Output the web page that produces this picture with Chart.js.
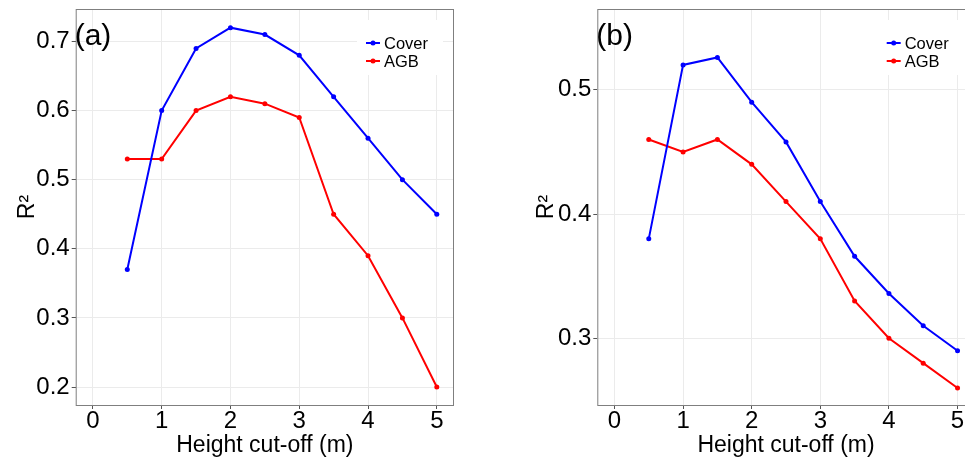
<!DOCTYPE html>
<html>
<head>
    <title>R2 vs height cut-off</title>
    <script src="https://cdn.jsdelivr.net/npm/chart.js"></script>
    <style>
        html, body { margin: 0; padding: 0; background: #fff; overflow: hidden; }
        body { width: 965px; height: 457px; position: relative; }
        canvas { position: absolute; top: 0; }
        #panel-a { left: 0; }
        #panel-b { left: 490px; }
    </style>
</head>
<body>
    <canvas id="panel-a" width="480" height="457"></canvas>
    <canvas id="panel-b" width="510" height="457"></canvas>

    <script>
        // Height cut-off (m) shared by both panels
        const cutoffs = [0.5, 1, 1.5, 2, 2.5, 3, 3.5, 4, 4.5, 5];
        const xTicks = [0, 1, 2, 3, 4, 5];

        // Panel (a)
        const coverA = [0.37, 0.60, 0.69, 0.72, 0.71, 0.68, 0.62, 0.56, 0.50, 0.45];
        const agbA = [0.53, 0.53, 0.60, 0.62, 0.61, 0.59, 0.45, 0.39, 0.30, 0.20];
        const yTicksA = [0.2, 0.3, 0.4, 0.5, 0.6, 0.7];

        // Panel (b)
        const coverB = [0.38, 0.52, 0.526, 0.49, 0.458, 0.41, 0.366, 0.336, 0.31, 0.29];
        const agbB = [0.46, 0.45, 0.46, 0.44, 0.41, 0.38, 0.33, 0.30, 0.28, 0.26];
        const yTicksB = [0.3, 0.4, 0.5];

        const FONT = "'Liberation Sans', Arial, sans-serif";

        function points(values) {
            return cutoffs.map((x, i) => ({ x: x, y: values[i] }));
        }

        function series(label, values, color) {
            return {
                label: label,
                data: points(values),
                borderColor: color,
                backgroundColor: color,
                borderWidth: 2,
                pointRadius: 2.5,
                pointBorderWidth: 0,
                tension: 0
            };
        }

        // panel border on all four sides
        const frame = {
            id: 'frame',
            afterDatasetsDraw(chart) {
                const a = chart.chartArea;
                const ctx = chart.ctx;
                ctx.save();
                ctx.strokeStyle = '#7f7f7f';
                ctx.lineWidth = 1;
                ctx.strokeRect(a.left + 0.5, a.top + 0.5, a.right - a.left - 1, a.bottom - a.top);
                ctx.restore();
            }
        };

        // legend box in the top-right corner plus the panel tag
        const keyAndTag = {
            id: 'keyAndTag',
            afterDraw(chart, args, opts) {
                const a = chart.chartArea;
                const ctx = chart.ctx;
                ctx.save();
                ctx.fillStyle = '#fff';
                ctx.fillRect(a.right - 97, a.top + 11, 86, 55);
                chart.data.datasets.forEach((ds, i) => {
                    const y = a.top + 34 + i * 18;
                    const x0 = a.right - 88;
                    ctx.strokeStyle = ds.borderColor;
                    ctx.lineWidth = 2;
                    ctx.beginPath();
                    ctx.moveTo(x0, y);
                    ctx.lineTo(x0 + 14, y);
                    ctx.stroke();
                    ctx.fillStyle = ds.borderColor;
                    ctx.beginPath();
                    ctx.arc(x0 + 7, y, 2.5, 0, Math.PI * 2);
                    ctx.fill();
                    ctx.fillStyle = '#000';
                    ctx.font = '16.5px ' + FONT;
                    ctx.textBaseline = 'middle';
                    ctx.textAlign = 'left';
                    ctx.fillText(ds.label, x0 + 18, y + 1);
                });
                ctx.font = '30px ' + FONT;
                ctx.textBaseline = 'alphabetic';
                ctx.fillStyle = '#000';
                ctx.fillText(opts.tag, a.left - 1, 45);
                ctx.restore();
            }
        };

        function makePanel(id, cover, agb, yMin, yMax, yTicks, yWidth, rightPad, titlePad, tag) {
            new Chart(document.getElementById(id), {
                type: 'line',
                data: {
                    datasets: [
                        series('Cover', cover, '#0000ff'),
                        series('AGB', agb, '#ff0000')
                    ]
                },
                options: {
                    responsive: false,
                    animation: false,
                    layout: { padding: { top: 9, right: rightPad, left: 0, bottom: 0 } },
                    plugins: {
                        legend: { display: false },
                        tooltip: { enabled: false },
                        keyAndTag: { tag: tag }
                    },
                    scales: {
                        x: {
                            type: 'linear',
                            min: -0.25,
                            max: 5.25,
                            afterFit(scale) {
                                scale.height = 52;
                                scale.paddingLeft = 0;
                                scale.paddingRight = 0;
                            },
                            afterBuildTicks(scale) { scale.ticks = xTicks.map(v => ({ value: v })); },
                            ticks: {
                                includeBounds: false,
                                color: '#000',
                                padding: -2,
                                font: { family: FONT, size: 24 },
                                callback: v => String(v)
                            },
                            grid: { color: '#ebebeb', tickColor: '#555', tickLength: 4 },
                            border: { display: false },
                            title: {
                                display: true,
                                text: 'Height cut-off (m)',
                                color: '#000',
                                font: { family: FONT, size: 23, lineHeight: 1.2 },
                                padding: { top: 0, bottom: -2 }
                            }
                        },
                        y: {
                            min: yMin,
                            max: yMax,
                            afterFit(scale) {
                                scale.width = yWidth;
                                scale.paddingTop = 0;
                                scale.paddingBottom = 0;
                            },
                            afterBuildTicks(scale) { scale.ticks = yTicks.map(v => ({ value: v })); },
                            ticks: {
                                includeBounds: false,
                                color: '#000',
                                padding: 2,
                                font: { family: FONT, size: 24 },
                                callback: v => v.toFixed(1)
                            },
                            grid: { color: '#ebebeb', tickColor: '#555', tickLength: 4 },
                            border: { display: false },
                            title: {
                                display: true,
                                text: 'R²',
                                color: '#000',
                                font: { family: FONT, size: 23, lineHeight: 1.2 },
                                padding: { top: titlePad + 2, bottom: 0 }
                            }
                        }
                    }
                },
                plugins: [frame, keyAndTag]
            });
        }

        makePanel('panel-a', coverA, agbA, 0.174, 0.747, yTicksA, 75.7, 26, 12, '(a)');
        makePanel('panel-b', coverB, agbB, 0.2463, 0.565, yTicksB, 107.3, 25.3, 41, '(b)');
    </script>
</body>
</html>
